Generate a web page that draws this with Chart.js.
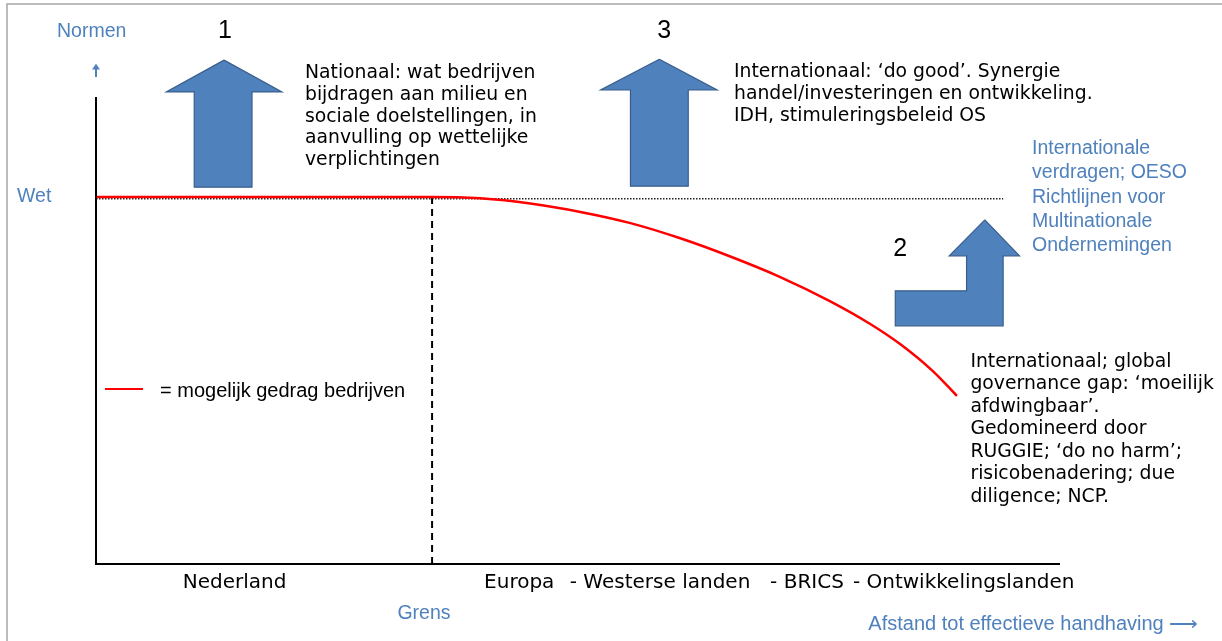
<!DOCTYPE html>
<html>
<head>
<meta charset="utf-8">
<script src="https://cdn.jsdelivr.net/npm/chart.js@4.4.0/dist/chart.umd.min.js"></script>
<style>
  html, body { margin: 0; padding: 0; background: #fff; }
  canvas { display: block; }
</style>
</head>
<body>
<canvas id="normenChart" width="1222" height="641"></canvas>
<script>
// x = afstand tot effectieve handhaving (0-100), y = normen (0-100)
const wetLevel = 78.6;
const grensX = 34.9;
const dottedEnd = 94.2;
const normenTop = 100;

// rode lijn: mogelijk gedrag bedrijven
const gedragX = [0, 34.9, 39.9, 45.1, 50.3, 55.5, 60.6, 65.8, 71.0, 76.2, 80.4, 83.5, 86.9, 89.4];
const gedragY = [78.6, 78.6, 78.3, 77.2, 75.4, 73.0, 69.8, 65.9, 61.5, 56.3, 51.4, 47.1, 41.3, 36.0];

// blauwe pijlen (omtrek)
const pijl1X = [13.3, 19.3, 16.2, 16.2, 10.2, 10.2, 7.3, 13.3];
const pijl1Y = [107.9, 101.1, 101.1, 80.7, 80.7, 101.1, 101.1, 107.9];
const pijl3X = [58.5, 64.5, 61.5, 61.5, 55.5, 55.5, 52.4, 58.5];
const pijl3Y = [108.1, 101.5, 101.5, 80.9, 80.9, 101.5, 101.5, 108.1];
const pijl2X = [92.3, 95.9, 94.2, 94.2, 83.0, 83.0, 90.4, 90.4, 88.6, 92.3];
const pijl2Y = [73.7, 66.0, 66.0, 51.0, 51.0, 58.5, 58.5, 66.0, 66.0, 73.7];

// landen langs de x-as
const regioLabels = ["Nederland", "Europa", "- Westerse landen", "- BRICS", "- Ontwikkelingslanden"];
const regioX = [9.0, 40.3, 49.2, 70.0, 78.6];

const tekst1 = ["Nationaal: wat bedrijven", "bijdragen aan milieu en", "sociale doelstellingen, in",
  "aanvulling op wettelijke", "verplichtingen"];
const tekst3 = ["Internationaal: \u2018do good\u2019. Synergie", "handel/investeringen en ontwikkeling.",
  "IDH, stimuleringsbeleid OS"];
const tekst2 = ["Internationaal; global", "governance gap: \u2018moeilijk", "afdwingbaar\u2019.",
  "Gedomineerd door", "RUGGIE; \u2018do no harm\u2019;", "risicobenadering; due", "diligence; NCP."];
const oesoTekst = ["Internationale", "verdragen; OESO", "Richtlijnen voor", "Multinationale", "Ondernemingen"];

const toPoints = (xs, ys) => xs.map((x, i) => ({ x: x, y: ys[i] }));

const BLUE = "#4F81BD";
const VERDANA = "'DejaVu Sans', Verdana, sans-serif";
const ARIAL = "'Liberation Sans', Arial, sans-serif";

const annotations = {
  id: "annotations",
  beforeDraw(chart) {
    const ctx = chart.ctx;
    ctx.save();
    ctx.fillStyle = "#fff";
    ctx.fillRect(0, 0, chart.width, chart.height);
    ctx.strokeStyle = "#a6a6a6";
    ctx.lineWidth = 1.5;
    ctx.beginPath();
    ctx.moveTo(7, chart.height);
    ctx.lineTo(7, 4);
    ctx.lineTo(chart.width, 4);
    ctx.stroke();
    ctx.restore();
  },
  afterDraw(chart) {
    const ctx = chart.ctx;
    const sx = chart.scales.x, sy = chart.scales.y;
    const px = u => sx.getPixelForValue(u);
    const py = v => sy.getPixelForValue(v);
    const block = (lines, u, v, font, color, step) => {
      ctx.font = font;
      ctx.fillStyle = color;
      lines.forEach((l, i) => ctx.fillText(l, px(u), py(v) + i * step));
    };
    ctx.save();
    ctx.textBaseline = "middle";
    ctx.textAlign = "left";

    block(["Normen"], -4.05, 114.1, "19.5px " + ARIAL, BLUE, 0);
    block(["Wet"], -8.2, 78.6, "19.5px " + ARIAL, BLUE, 0);
    block(["Grens"], 31.3, -10.7, "19.5px " + ARIAL, BLUE, 0);
    block(["Afstand tot effectieve handhaving \u27F6"], 80.2, -12.85, "20px " + ARIAL, BLUE, 0);
    block(oesoTekst, 97.2, 88.9, "19.5px " + ARIAL, BLUE, 24.2);

    block(tekst1, 21.7, 105.1, "18.8px " + VERDANA, "#000", 21.8);
    block(tekst3, 66.25, 105.4, "18.8px " + VERDANA, "#000", 22);
    block(tekst2, 90.8, 43.3, "18.8px " + VERDANA, "#000", 22.5);

    regioLabels.forEach((l, i) => block([l], regioX[i], -4.07, "20px " + VERDANA, "#000", 0));

    // legenda
    ctx.strokeStyle = "#ff0000";
    ctx.lineWidth = 2;
    ctx.beginPath();
    ctx.moveTo(px(0.93), py(37.5));
    ctx.lineTo(px(4.88), py(37.5));
    ctx.stroke();
    block(["= mogelijk gedrag bedrijven"], 6.65, 37.0, "20px " + ARIAL, "#000", 0);

    // klein pijltje boven de normen-as
    const ax = px(0);
    ctx.strokeStyle = BLUE;
    ctx.fillStyle = BLUE;
    ctx.lineWidth = 2;
    ctx.beginPath();
    ctx.moveTo(ax, py(104.3));
    ctx.lineTo(ax, py(106.0));
    ctx.stroke();
    ctx.beginPath();
    ctx.moveTo(ax - 4, py(105.9));
    ctx.lineTo(ax + 4, py(105.9));
    ctx.lineTo(ax, py(107.1));
    ctx.closePath();
    ctx.fill();

    // nummers
    ctx.textAlign = "center";
    block(["1"], 13.4, 114.1, "25px " + ARIAL, "#000", 0);
    block(["3"], 59.0, 114.1, "25px " + ARIAL, "#000", 0);
    block(["2"], 83.5, 67.5, "25px " + ARIAL, "#000", 0);
    ctx.restore();
  }
};

const arrowStyle = {
  showLine: true,
  fill: "shape",
  backgroundColor: BLUE,
  borderColor: "#3A5E8C",
  borderWidth: 1.2,
  pointRadius: 0,
  tension: 0,
  clip: false,
  order: 5
};

new Chart(document.getElementById("normenChart").getContext("2d"), {
  type: "scatter",
  data: {
    datasets: [
      {
        label: "mogelijk gedrag bedrijven",
        data: toPoints(gedragX, gedragY),
        showLine: true,
        borderColor: "#ff0000",
        borderWidth: 2.5,
        pointRadius: 0,
        cubicInterpolationMode: "monotone",
        order: 1
      },
      {
        label: "wet",
        data: toPoints([0, dottedEnd], [wetLevel - 0.4, wetLevel - 0.4]),
        showLine: true,
        borderColor: "#222",
        borderWidth: 1.5,
        borderDash: [1.5, 1.5],
        pointRadius: 0,
        order: 3
      },
      {
        label: "grens",
        data: toPoints([grensX, grensX], [0, wetLevel]),
        showLine: true,
        borderColor: "#000",
        borderWidth: 2,
        borderDash: [7, 5],
        pointRadius: 0,
        order: 2
      },
      {
        label: "normen-as",
        data: toPoints([0, 0], [0, normenTop]),
        showLine: true,
        borderColor: "#000",
        borderWidth: 2,
        pointRadius: 0,
        clip: false,
        order: 0
      },
      Object.assign({ label: "pijl 1", data: toPoints(pijl1X, pijl1Y) }, arrowStyle),
      Object.assign({ label: "pijl 3", data: toPoints(pijl3X, pijl3Y) }, arrowStyle),
      Object.assign({ label: "pijl 2", data: toPoints(pijl2X, pijl2Y) }, arrowStyle)
    ]
  },
  options: {
    responsive: false,
    animation: false,
    layout: { padding: { left: 96, top: 55, right: 163, bottom: 77 } },
    plugins: { legend: { display: false }, tooltip: { enabled: false } },
    scales: {
      x: {
        type: "linear", min: 0, max: 100,
        ticks: { display: false },
        grid: { display: false, drawTicks: false },
        border: { display: true, color: "#000", width: 2 }
      },
      y: {
        type: "linear", min: 0, max: 109,
        ticks: { display: false },
        grid: { display: false, drawTicks: false },
        border: { display: false }
      }
    }
  },
  plugins: [annotations]
});
</script>
</body>
</html>
